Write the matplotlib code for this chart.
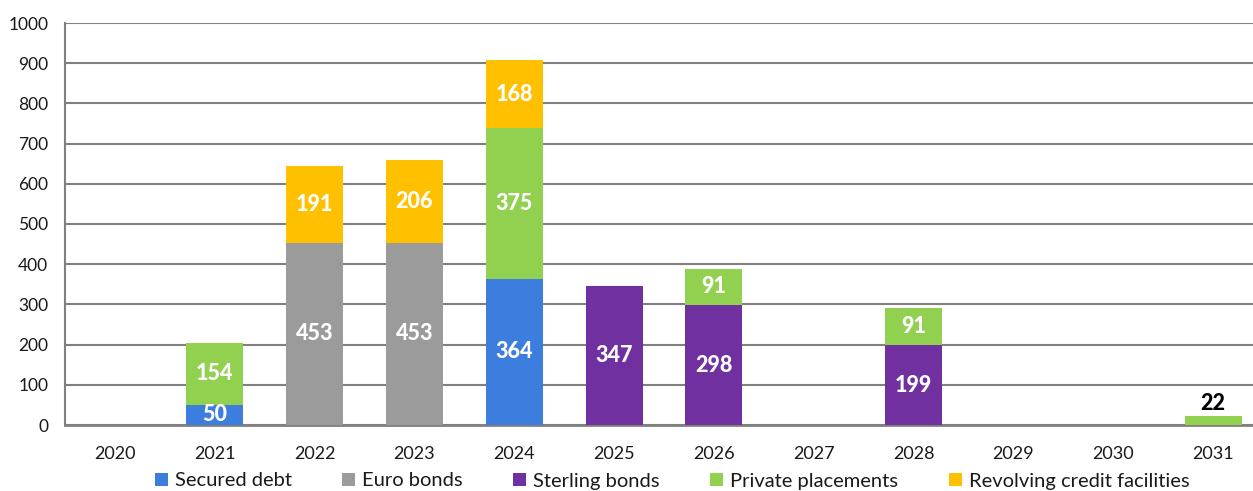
import matplotlib.pyplot as plt
import numpy as np

years = ['2020', '2021', '2022', '2023', '2024', '2025', '2026', '2027', '2028', '2029', '2030', '2031']
secured_debt = [0, 50, 0, 0, 364, 0, 0, 0, 0, 0, 0, 0]
euro_bonds = [0, 0, 453, 453, 0, 0, 0, 0, 0, 0, 0, 0]
sterling_bonds = [0, 0, 0, 0, 0, 347, 298, 0, 199, 0, 0, 0]
private_placements = [0, 154, 0, 0, 375, 0, 91, 0, 91, 0, 0, 22]
revolving_credit = [0, 0, 191, 206, 168, 0, 0, 0, 0, 0, 0, 0]

series = [
    ('Secured debt', secured_debt, '#3c7ddd'),
    ('Euro bonds', euro_bonds, '#9b9b9b'),
    ('Sterling bonds', sterling_bonds, '#7030a0'),
    ('Private placements', private_placements, '#92d050'),
    ('Revolving credit facilities', revolving_credit, '#ffc000'),
]

plt.rcParams['font.family'] = ['Lato', 'DejaVu Sans']

fig = plt.figure(figsize=(12.53, 4.91), dpi=100)
ax = fig.add_axes([65 / 1253, 1 - 425 / 491, 1198 / 1253, 402 / 491])

x = np.arange(len(years))
bottom = np.zeros(len(years))
for name, vals, color in series:
    vals = np.array(vals, dtype=float)
    ax.bar(x, vals, 0.57, bottom=bottom, color=color, label=name, zorder=3)
    for i, v in enumerate(vals):
        if v <= 0:
            continue
        if v < 40:
            ax.text(x[i], bottom[i] + v + 5, f'{int(v)}', ha='center', va='bottom',
                    fontsize=15.5, fontweight='black', color='black', zorder=4)
        else:
            ax.text(x[i], bottom[i] + v / 2, f'{int(v)}', ha='center', va='center',
                    fontsize=15.5, fontweight='black', color='white', zorder=4)
    bottom += vals

ax.set_xlim(-0.5, len(years) - 0.5)
ax.set_ylim(0, 1000)
ax.set_yticks(range(0, 1001, 100))
ax.set_xticks(x)
ax.set_xticklabels(years)
ax.tick_params(axis='both', length=0, colors='#222222', labelcolor='#1a1a1a')
ax.tick_params(axis='y', pad=12, labelsize=12.5)
ax.tick_params(axis='x', pad=15, labelsize=13)
ax.yaxis.grid(True, color='#808080', linewidth=1.5, zorder=0)
for s in ['top', 'right']:
    ax.spines[s].set_visible(False)
ax.spines['left'].set_color('#808080')
ax.spines['left'].set_linewidth(1.5)
ax.spines['bottom'].set_color('#808080')
ax.spines['bottom'].set_linewidth(2)

leg = fig.legend(loc='center', bbox_to_anchor=(672 / 1253, 1 - 481 / 491), ncol=5, frameon=False,
                 fontsize=14.5, handlelength=0.65, handleheight=0.65,
                 handletextpad=0.35, columnspacing=2.5)
for t in leg.get_texts():
    t.set_color('#1a1a1a')

fig.savefig('out.png', dpi=100)
